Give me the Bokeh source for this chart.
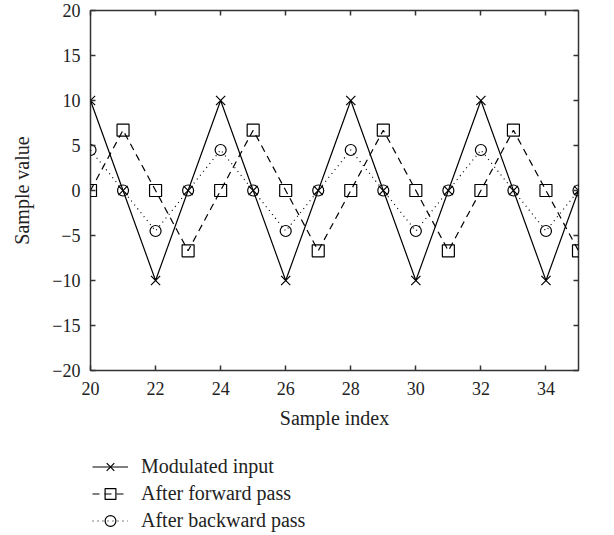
from bokeh.plotting import figure
from bokeh.layouts import column
from bokeh.models import Legend, LegendItem, LinearAxis, FixedTicker, ColumnDataSource
from bokeh.embed import file_html
from bokeh.resources import INLINE

# data
sample_index = list(range(20, 36))
modulated = [10, 0, -10, 0, 10, 0, -10, 0, 10, 0, -10, 0, 10, 0, -10, 0]
forward = [0, 6.7, 0, -6.7, 0, 6.7, 0, -6.7, 0, 6.7, 0, -6.7, 0, 6.7, 0, -6.7]
backward = [4.5, 0, -4.5, 0, 4.5, 0, -4.5, 0, 4.5, 0, -4.5, 0, 4.5, 0, -4.5, 0]
series_names = ["Modulated input", "After forward pass", "After backward pass"]
x_ticks = [20, 22, 24, 26, 28, 30, 32, 34]
y_ticks = [-20, -15, -10, -5, 0, 5, 10, 15, 20]
y_tick_labels = ["\u221220", "\u221215", "\u221210", "\u22125", "0", "5", "10", "15", "20"]

FONT = "Liberation Serif"

p = figure(width=614, height=440, output_backend="svg", toolbar_location=None,
           x_range=(20, 35), y_range=(-20, 20),
           min_border_left=90, min_border_right=36, min_border_top=10, min_border_bottom=70)
p.xgrid.visible = False
p.ygrid.visible = False
p.outline_line_color = "#333333"
p.outline_line_width = 1.5
p.background_fill_color = "white"
p.border_fill_color = "white"

src = ColumnDataSource(dict(x=sample_index, m=modulated, f=forward, b=backward))

STYLES = [
    dict(line=dict(line_color="black", line_width=1.2),
         marker=dict(marker="x", size=13, line_color="black", line_width=1.2)),
    dict(line=dict(line_color="black", line_width=1.2, line_dash="7 5"),
         marker=dict(marker="square", size=12, line_color="black", fill_color=None, line_width=1.2)),
    dict(line=dict(line_color="black", line_width=1.2, line_dash="1 4"),
         marker=dict(marker="circle", size=11, line_color="black", fill_color=None, line_width=1.2)),
]
cols = ["m", "f", "b"]
for c, st in zip(cols, STYLES):
    p.line("x", c, source=src, **st["line"])
    p.scatter("x", c, source=src, **st["marker"])

def style_axis(ax):
    ax.axis_line_color = None
    ax.major_tick_line_color = "#333333"
    ax.major_tick_line_width = 1.5
    ax.major_tick_in = 5
    ax.major_tick_out = 0
    ax.minor_tick_line_color = None
    ax.major_label_text_font = FONT
    ax.axis_label_text_font = FONT
    ax.axis_label_text_font_style = "normal"
    ax.axis_label_text_color = "#222222"
    ax.major_label_text_color = "#222222"
    ax.major_label_text_font_size = "18px"
    ax.axis_label_text_font_size = "20px"

xa = p.xaxis[0]
xa.ticker = FixedTicker(ticks=x_ticks)
xa.axis_label = "Sample index"
style_axis(xa)
xa.major_label_standoff = 11
xa.axis_label_standoff = 9

ya = p.yaxis[0]
ya.ticker = FixedTicker(ticks=y_ticks)
ya.major_label_overrides = {t: l for t, l in zip(y_ticks, y_tick_labels)}
ya.axis_label = "Sample value"
style_axis(ya)
ya.major_label_standoff = 10
ya.axis_label_standoff = 16

top = LinearAxis(ticker=FixedTicker(ticks=x_ticks))
style_axis(top)
top.major_label_overrides = {t: "" for t in x_ticks}
top.major_label_standoff = 0
p.add_layout(top, "above")
right = LinearAxis(ticker=FixedTicker(ticks=y_ticks))
style_axis(right)
right.major_label_overrides = {t: "" for t in y_ticks}
right.major_label_standoff = 0
p.add_layout(right, "right")

# legend figure (its frame is aligned with the main plot's frame by the column)
q = figure(width=614, height=95, output_backend="svg", toolbar_location=None,
           x_range=(0, 1), y_range=(0, 1),
           min_border_left=0, min_border_right=0, min_border_top=0, min_border_bottom=0)
q.axis.visible = False
q.xgrid.visible = False
q.ygrid.visible = False
q.outline_line_color = None
q.background_fill_color = "white"
q.border_fill_color = "white"
hidden = ColumnDataSource(dict(x=[-5, -4], y=[-5, -4]))
items = []
for name, st in zip(series_names, STYLES):
    rl = q.line("x", "y", source=hidden, **st["line"])
    rm = q.scatter("x", "y", source=hidden, **st["marker"])
    items.append(LegendItem(label=name, renderers=[rl, rm]))

legend = Legend(items=items, location=(2, 1))
legend.border_line_color = None
legend.background_fill_alpha = 0
legend.padding = 0
legend.margin = 0
legend.spacing = 0
legend.glyph_width = 36
legend.glyph_height = 27
legend.label_height = 27
legend.label_standoff = 13
legend.label_text_font = FONT
legend.label_text_font_size = "20px"
legend.label_text_color = "#222222"
q.add_layout(legend, "center")

layout = column(p, q, spacing=0)
open("out.html", "w").write(file_html(layout, INLINE))
